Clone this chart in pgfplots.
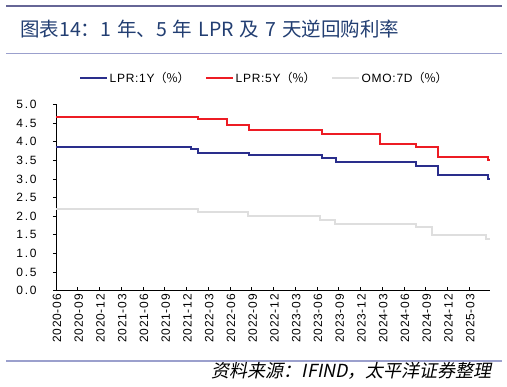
\documentclass[border=0pt]{standalone}
\usepackage{fontspec}
\usepackage{pgfplots}
\pgfplotsset{compat=1.18}
\setmainfont{Liberation Sans}
\newfontfamily\cjk{Noto Sans CJK SC}
\newfontfamily\cjksl[FakeSlant=0.2]{Noto Sans CJK SC}
\newfontfamily\numfont[LetterSpace=6]{Liberation Sans}
\newfontfamily\ynumfont[LetterSpace=14]{Liberation Sans}
\definecolor{cOne}{RGB}{42,46,140}
\definecolor{cFive}{RGB}{237,28,36}
\definecolor{cOmo}{RGB}{222,222,222}
\definecolor{titleblue}{RGB}{34,62,114}
\definecolor{rulethick}{RGB}{102,102,150}
\definecolor{rulethin}{RGB}{155,160,205}
\begin{document}
\begin{tikzpicture}
\useasboundingbox (0,0) rectangle (507pt,387pt);
\fill[white] (0,0) rectangle (507pt,387pt);
% header / footer rules
\draw[rulethick, line width=2.5pt] (6pt,381pt) -- (502pt,381pt);
\draw[rulethin, line width=1pt] (6pt,333.7pt) -- (502pt,333.7pt);
\draw[rulethin, line width=1.5pt] (6pt,26pt) -- (502pt,26pt);
\node[anchor=base west, inner sep=0pt, text=titleblue, font=\cjk\fontsize{19.5}{21}\selectfont] at (20pt,350pt) {图表14：1\hspace{6pt}年、5\hspace{6pt}年\hspace{6pt}LPR\hspace{6pt}及\hspace{6pt}7\hspace{6pt}天逆回购利率};
\node[anchor=base east, inner sep=0pt, font=\cjksl\fontsize{18}{19}\selectfont] at (492pt,9pt) {资料来源：IFIND，太平洋证券整理};
\begin{axis}[
  at={(56pt,96.3pt)}, anchor=south west,
  scale only axis, width=434pt, height=186.3pt,
  xmin=0, xmax=59.85, ymin=0, ymax=5,
  axis x line*=bottom, axis y line*=left,
  axis line style={-, line width=0.8pt, black},
  xtick={0,3,...,57},
  xticklabels={2020-06,2020-09,2020-12,2021-03,2021-06,2021-09,2021-12,2022-03,2022-06,2022-09,2022-12,2023-03,2023-06,2023-09,2023-12,2024-03,2024-06,2024-09,2024-12,2025-03},
  ytick={0,0.5,...,5},
  major tick length=4pt,
  tick align=inside,
  tick style={black, line width=0.8pt},
  y tick style={xshift=-3pt},
  /pgf/number format/.cd, fixed, fixed zerofill, precision=1, assume math mode=true,
  /pgfplots/.cd,
  xticklabel style={rotate=90, anchor=east, font=\numfont\fontsize{12}{13}\selectfont, yshift=-1pt},
  yticklabel style={anchor=east, xshift=-16pt, font=\ynumfont\fontsize{12}{13}\selectfont},
  legend columns=3,
  legend style={draw=none, fill=none, at={(0.046,1.143)}, anchor=west,
    font=\numfont\fontsize{12}{13}\selectfont,
    /tikz/every even column/.append style={column sep=14pt},
    nodes={inner sep=1.5pt}},
  legend image code/.code={\draw[#1] (0pt,0pt) -- (27pt,0pt);},
  legend cell align=left,
]
\addplot[const plot, cOne, line width=2pt] coordinates {
(0,3.85) (18.61,3.80) (19.61,3.70) (26.68,3.65) (36.63,3.55) (38.65,3.45) (49.68,3.35) (52.65,3.10) (59.61,3.00) (59.85,3.00)};
\addlegendentry{LPR:1Y{\cjk（\%）}}
\addplot[const plot, cFive, line width=2pt] coordinates {
(0,4.65) (19.61,4.60) (23.61,4.45) (26.68,4.30) (36.63,4.20) (44.66,3.95) (49.68,3.85) (52.65,3.60) (59.61,3.50) (59.85,3.50)};
\addlegendentry{LPR:5Y{\cjk（\%）}}
\addplot[const plot, cOmo, line width=2pt] coordinates {
(0,2.20) (19.52,2.10) (26.45,2.00) (36.40,1.90) (38.45,1.80) (49.68,1.70) (51.87,1.50) (59.23,1.40) (59.85,1.40)};
\addlegendentry{OMO:7D{\cjk（\%）}}
\end{axis}
\end{tikzpicture}
\end{document}
